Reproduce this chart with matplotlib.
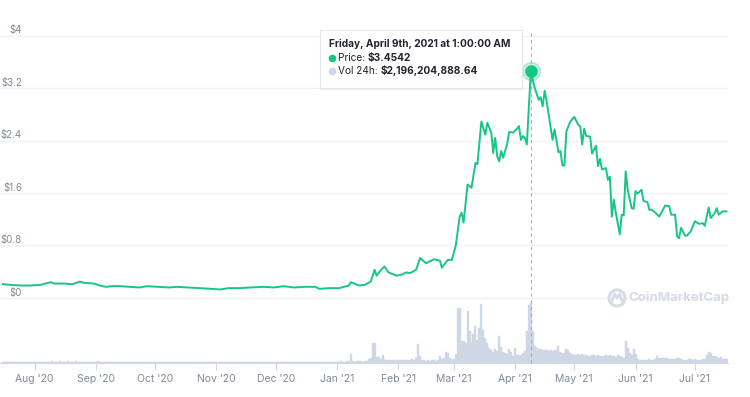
import matplotlib

matplotlib.use("Agg")
import matplotlib.dates as mdates
import matplotlib.patches as mpatches
import matplotlib.pyplot as plt
import pandas as pd

# price samples (USD)
price_dates = [
    "2020-07-16", "2020-07-20", "2020-07-25", "2020-07-30", "2020-08-04", "2020-08-09",
    "2020-08-11", "2020-08-16", "2020-08-20", "2020-08-24", "2020-08-26", "2020-08-31",
    "2020-09-03", "2020-09-06", "2020-09-09", "2020-09-13", "2020-09-18", "2020-09-23",
    "2020-09-27", "2020-10-03", "2020-10-08", "2020-10-12", "2020-10-18", "2020-10-24",
    "2020-10-29", "2020-11-03", "2020-11-07", "2020-11-13", "2020-11-18", "2020-11-25",
    "2020-11-30", "2020-12-05", "2020-12-10", "2020-12-16", "2020-12-21", "2020-12-23",
    "2020-12-28", "2021-01-02", "2021-01-07", "2021-01-08", "2021-01-12", "2021-01-15",
    "2021-01-18", "2021-01-20", "2021-01-21", "2021-01-23", "2021-01-25", "2021-01-27",
    "2021-01-31", "2021-02-03", "2021-02-05", "2021-02-07", "2021-02-10", "2021-02-12",
    "2021-02-15", "2021-02-19", "2021-02-22", "2021-02-23", "2021-02-26", "2021-02-28",
    "2021-03-02", "2021-03-04", "2021-03-05", "2021-03-06", "2021-03-08", "2021-03-10",
    "2021-03-12", "2021-03-13", "2021-03-15", "2021-03-17", "2021-03-18", "2021-03-20",
    "2021-03-21", "2021-03-22", "2021-03-23", "2021-03-24", "2021-03-25", "2021-03-26",
    "2021-03-28", "2021-03-29", "2021-03-31", "2021-04-02", "2021-04-03", "2021-04-04",
    "2021-04-05", "2021-04-06", "2021-04-07", "2021-04-09", "2021-04-11", "2021-04-13",
    "2021-04-14", "2021-04-15", "2021-04-16", "2021-04-17", "2021-04-20", "2021-04-21",
    "2021-04-23", "2021-04-24", "2021-04-25", "2021-04-26", "2021-04-27", "2021-04-29",
    "2021-05-01", "2021-05-03", "2021-05-04", "2021-05-05", "2021-05-06", "2021-05-07",
    "2021-05-09", "2021-05-10", "2021-05-12", "2021-05-13", "2021-05-14", "2021-05-15",
    "2021-05-17", "2021-05-18", "2021-05-19", "2021-05-20", "2021-05-21", "2021-05-22",
    "2021-05-24", "2021-05-25", "2021-05-26", "2021-05-27", "2021-05-28", "2021-05-30",
    "2021-05-31", "2021-06-01", "2021-06-02", "2021-06-04", "2021-06-05", "2021-06-07",
    "2021-06-08", "2021-06-09", "2021-06-11", "2021-06-13", "2021-06-14", "2021-06-16",
    "2021-06-18", "2021-06-19", "2021-06-21", "2021-06-22", "2021-06-23", "2021-06-24",
    "2021-06-26", "2021-06-27", "2021-06-29", "2021-07-01", "2021-07-03", "2021-07-05",
    "2021-07-06", "2021-07-08", "2021-07-09", "2021-07-11", "2021-07-12", "2021-07-13",
    "2021-07-15", "2021-07-17",
]
price_usd = [
    0.21, 0.20, 0.19, 0.19, 0.20, 0.24,
    0.22, 0.22, 0.21, 0.25, 0.23, 0.22,
    0.19, 0.17, 0.18, 0.18, 0.17, 0.16,
    0.18, 0.17, 0.16, 0.17, 0.16, 0.15,
    0.14, 0.13, 0.15, 0.15, 0.16, 0.17,
    0.16, 0.18, 0.16, 0.17, 0.17, 0.14,
    0.15, 0.15, 0.19, 0.24, 0.19, 0.20,
    0.25, 0.43, 0.34, 0.42, 0.48, 0.39,
    0.34, 0.36, 0.39, 0.38, 0.43, 0.61,
    0.53, 0.59, 0.57, 0.46, 0.58, 0.58,
    0.79, 1.24, 1.30, 1.15, 1.73, 1.68,
    2.06, 2.04, 2.69, 2.49, 2.67, 2.52,
    2.21, 2.44, 2.16, 2.08, 2.24, 2.14,
    2.34, 2.53, 2.52, 2.58, 2.62, 2.41,
    2.47, 2.44, 2.34, 3.4542, 3.20, 3.02,
    3.06, 2.92, 3.16, 3.00, 2.41, 2.57,
    2.22, 2.24, 2.02, 2.02, 2.54, 2.69,
    2.76, 2.64, 2.62, 2.34, 2.58, 2.47,
    2.46, 2.20, 2.32, 2.01, 2.12, 1.96,
    1.98, 1.80, 1.85, 1.24, 1.50, 1.30,
    0.97, 1.27, 1.26, 1.93, 1.65, 1.37,
    1.36, 1.63, 1.59, 1.65, 1.48, 1.46,
    1.34, 1.35, 1.30, 1.24, 1.30, 1.41,
    1.40, 1.27, 1.27, 0.94, 0.91, 1.07,
    0.95, 0.95, 1.02, 1.17, 1.13, 1.14,
    1.10, 1.38, 1.22, 1.29, 1.37, 1.27,
    1.32, 1.32,
]

# daily 24h volume in billions USD, starting 2020-07-16
volume_start = "2020-07-16"
volume_bn = (
    # Jul 16-31
    [0.03, 0.04, 0.03, 0.03, 0.04, 0.05, 0.04, 0.03, 0.03, 0.04, 0.05, 0.04, 0.03, 0.04, 0.03, 0.04]
    # Aug
    + [0.04, 0.03, 0.04, 0.05, 0.04, 0.03, 0.04, 0.04, 0.05, 0.06, 0.05, 0.04, 0.05, 0.06, 0.05, 0.04,
       0.05, 0.06, 0.05, 0.04, 0.05, 0.06, 0.05, 0.04, 0.04, 0.05, 0.04, 0.03, 0.04, 0.05, 0.04]
    # Sep
    + [0.05, 0.06, 0.05, 0.04, 0.04, 0.03, 0.04, 0.03, 0.03, 0.04, 0.03, 0.03, 0.03, 0.04, 0.03,
       0.03, 0.03, 0.03, 0.03, 0.02, 0.03, 0.03, 0.02, 0.03, 0.03, 0.02, 0.02, 0.03, 0.02, 0.03]
    # Oct
    + [0.03, 0.02, 0.02, 0.03, 0.02, 0.02, 0.03, 0.02, 0.02, 0.02, 0.03, 0.02, 0.02, 0.02, 0.02, 0.03,
       0.04, 0.03, 0.02, 0.02, 0.03, 0.02, 0.02, 0.02, 0.03, 0.02, 0.02, 0.02, 0.02, 0.03, 0.02]
    # Nov
    + [0.02, 0.02, 0.03, 0.02, 0.02, 0.02, 0.03, 0.02, 0.02, 0.02, 0.02, 0.02, 0.02, 0.03, 0.02,
       0.02, 0.02, 0.02, 0.02, 0.03, 0.02, 0.02, 0.02, 0.03, 0.03, 0.02, 0.02, 0.02, 0.02, 0.02]
    # Dec
    + [0.02, 0.02, 0.02, 0.03, 0.02, 0.02, 0.02, 0.02, 0.02, 0.03, 0.02, 0.02, 0.02, 0.02, 0.02, 0.02,
       0.03, 0.02, 0.02, 0.02, 0.03, 0.04, 0.03, 0.03, 0.02, 0.02, 0.03, 0.04, 0.03, 0.03, 0.02]
    # Jan 2021
    + [0.04, 0.05, 0.06, 0.05, 0.05, 0.06, 0.06, 0.34, 0.06, 0.05, 0.06, 0.07, 0.06, 0.05, 0.06, 0.07,
       0.16, 0.20, 0.73, 0.73, 0.22, 0.22, 0.15, 0.30, 0.14, 0.12, 0.10, 0.11, 0.12, 0.10, 0.11]
    # Feb
    + [0.12, 0.11, 0.10, 0.12, 0.11, 0.10, 0.12, 0.13, 0.12, 0.20, 0.71, 0.25, 0.12, 0.10,
       0.09, 0.10, 0.09, 0.10, 0.10, 0.09, 0.12, 0.27, 0.14, 0.18, 0.41, 0.38, 0.18, 0.16]
    # Mar
    + [0.15, 0.34, 2.01, 2.00, 0.79, 0.80, 0.72, 1.92, 1.16, 0.76, 1.05, 1.34, 0.85, 1.28, 2.17, 1.22,
       0.90, 0.73, 0.55, 0.46, 0.42, 0.51, 0.45, 1.00, 0.60, 0.39, 0.36, 0.34, 0.51, 0.40, 0.27]
    # Apr
    + [0.55, 0.31, 0.28, 0.30, 0.37, 0.45, 1.16, 2.14, 2.196, 1.16, 0.63, 0.55, 0.51, 0.51, 0.49,
       0.49, 0.46, 0.45, 0.46, 0.44, 0.46, 0.43, 0.63, 0.40, 0.37, 0.35, 0.51, 0.49, 0.38, 0.33]
    # May
    + [0.30, 0.28, 0.32, 0.30, 0.34, 0.28, 0.30, 0.26, 0.27, 0.30, 0.28, 0.26, 0.30, 0.27, 0.25, 0.26,
       0.28, 0.24, 0.30, 0.26, 0.24, 0.22, 0.28, 0.25, 0.22, 0.20, 0.79, 0.55, 0.35, 0.30, 0.51]
    # Jun
    + [0.34, 0.15, 0.12, 0.12, 0.11, 0.10, 0.12, 0.14, 0.12, 0.11, 0.14, 0.24, 0.20, 0.18, 0.20,
       0.19, 0.17, 0.15, 0.13, 0.14, 0.16, 0.18, 0.17, 0.13, 0.12, 0.11, 0.12, 0.13, 0.14, 0.12]
    # Jul 1-17
    + [0.13, 0.12, 0.11, 0.12, 0.13, 0.16, 0.30, 0.40, 0.36, 0.26, 0.24, 0.22, 0.18, 0.22, 0.15,
       0.14, 0.14]
)

price_ticks = [0, 0.8, 1.6, 2.4, 3.2, 4]
price_tick_labels = ["$0", "$0.8", "$1.6", "$2.4", "$3.2", "$4"]

hover_date = "2021-04-09"
hover_title = "Friday, April 9th, 2021 at 1:00:00 AM"
hover_price = "$3.4542"
hover_volume = "$2,196,204,888.64"

GREEN = "#16c784"
VOL_COLOR = "#cfd6e4"
GRID = "#eff2f5"
TEXT_GRAY = "#808a9d"
DARK = "#222531"
MARK = "#d6dbe5"

plt.rcParams["font.family"] = ["Inter", "DejaVu Sans"]

W, H = 750, 397
fig = plt.figure(figsize=(W / 100, H / 100), dpi=100)
fig.patch.set_facecolor("white")


def fig_box(x0, y0, x1, y1):
    """Pixel box (top-left origin) -> figure fraction rect."""
    return [x0 / W, 1 - y1 / H, (x1 - x0) / W, (y1 - y0) / H]


ax = fig.add_axes(fig_box(0, 30, 728, 305))
ax_vol = fig.add_axes(fig_box(0, 303, 728, 363), sharex=ax)
ax_vol.set_zorder(0)
ax.set_zorder(1)
ax.patch.set_alpha(0)

dates = pd.to_datetime(price_dates)
vol_dates = pd.date_range(volume_start, periods=len(volume_bn), freq="D")
x_left = pd.Timestamp("2020-07-14 12:00")
x_right = pd.Timestamp("2021-07-17 18:00")

# volume bars
ax_vol.bar(vol_dates, volume_bn, width=1.0, color=VOL_COLOR, edgecolor=VOL_COLOR,
           linewidth=0.3)
ax_vol.set_ylim(0, 2.2)
ax_vol.set_xlim(x_left, x_right)
for side in ["top", "left", "right"]:
    ax_vol.spines[side].set_visible(False)
ax_vol.spines["bottom"].set_color(VOL_COLOR)
ax_vol.set_yticks([])
ax_vol.xaxis.set_major_locator(mdates.MonthLocator())
ax_vol.xaxis.set_major_formatter(mdates.DateFormatter("%b '%y"))
ax_vol.tick_params(axis="x", length=5, color=VOL_COLOR, labelcolor=TEXT_GRAY,
                   labelsize=7.5, pad=3)
ax_vol.patch.set_alpha(0)

# price line
ax.plot(dates, price_usd, color=GREEN, linewidth=1.4, solid_joinstyle="round", zorder=3)
ax.set_ylim(-0.107, 4.085)
ax.set_xlim(x_left, x_right)
ax.set_yticks(price_ticks)
ax.yaxis.grid(True, color=GRID, linewidth=1)
ax.tick_params(axis="both", length=0, labelleft=False, labelbottom=False)
for s in ax.spines.values():
    s.set_visible(False)
for v, lab in zip(price_ticks, price_tick_labels):
    ax.text(22 / 728, v + 0.08, lab, transform=ax.get_yaxis_transform(),
            ha="right", va="center", fontsize=7, color=TEXT_GRAY)

# hover crosshair + marker
hx = pd.Timestamp(hover_date)
hy = price_usd[price_dates.index(hover_date)]
ax.axvline(hx, ymin=-58 / 275, ymax=1.0, color="#a6b0c3", linewidth=0.8,
           linestyle=(0, (3, 3)), clip_on=False, zorder=2)
ax.plot([hx], [hy], "o", markersize=13, color=GREEN, alpha=0.25, zorder=4, clip_on=False)
ax.plot([hx], [hy], "o", markersize=8, color=GREEN, zorder=5, clip_on=False)

# watermark
fig.text(628 / W, 1 - 298 / H, "CoinMarketCap", fontsize=9.5, fontweight="bold",
         color=MARK, ha="left", va="center")
fig.patches.append(mpatches.Circle((617, H - 298), 8, transform=None, fill=False,
                                   edgecolor=MARK, linewidth=2.2))
fig.add_artist(plt.Line2D([612, 614.5, 617, 619.5, 622], [H - 301, H - 294, H - 298, H - 294, H - 301],
                          transform=None, color=MARK, linewidth=1.8))

# tooltip
shadow = mpatches.Rectangle((321 / W, 1 - 90 / H), 202 / W, 58 / H, transform=fig.transFigure,
                            facecolor="#000000", alpha=0.06, edgecolor="none", zorder=9)
box = mpatches.Rectangle((320 / W, 1 - 88 / H), 202 / W, 58 / H, transform=fig.transFigure,
                         facecolor="white", edgecolor="#e3e6eb", linewidth=0.8, zorder=10)
fig.patches.extend([shadow, box])
fig.text(329 / W, 1 - 44 / H, hover_title, fontsize=7.3, fontweight="bold", color=DARK,
         ha="left", va="center", zorder=11)
fig.add_artist(plt.Line2D([332], [H - 58], transform=None, marker="o", markersize=4.5,
                          color=GREEN, linestyle="none", zorder=11))
fig.add_artist(plt.Line2D([332], [H - 71], transform=None, marker="o", markersize=4.5,
                          color=VOL_COLOR, linestyle="none", zorder=11))
t1 = fig.text(338 / W, 1 - 58 / H, "Price: ", fontsize=7.3, color=DARK, ha="left",
              va="center", zorder=11)
t2 = fig.text(338 / W, 1 - 71 / H, "Vol 24h: ", fontsize=7.3, color=DARK, ha="left",
              va="center", zorder=11)
fig.canvas.draw()
r = fig.canvas.get_renderer()
for t, val, yy in [(t1, hover_price, 58), (t2, hover_volume, 71)]:
    ext = t.get_window_extent(r)
    fig.text(ext.x1 / W, 1 - yy / H, val, fontsize=7.3, fontweight="bold", color=DARK,
             ha="left", va="center", zorder=11)

fig.savefig("out.png", dpi=100)
